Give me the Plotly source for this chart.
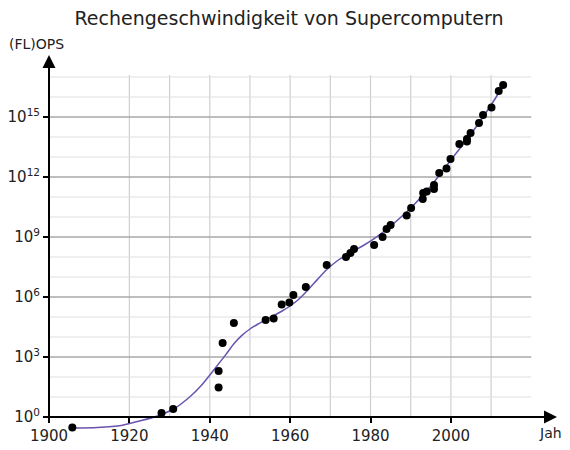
import plotly.graph_objects as go

# --- data ---
point_years = [1905.8, 1928.0, 1930.9, 1942.2, 1942.2, 1943.2, 1946.0, 1953.9, 1955.9,
               1957.9, 1959.8, 1960.8, 1963.9, 1969.1, 1973.9, 1975.0, 1975.9, 1980.9,
               1983.0, 1984.0, 1985.0, 1989.0, 1990.1, 1993.0, 1993.1, 1994.0, 1995.8,
               1995.8, 1997.1, 1998.9, 1999.9, 2002.1, 2004.0, 2004.0, 2004.9, 2007.0,
               2008.0, 2010.1, 2011.9, 2013.0]
point_log_ops = [-0.53, 0.2, 0.4, 1.47, 2.3, 3.7, 4.7, 4.85, 4.93,
                 5.63, 5.73, 6.1, 6.5, 7.6, 8.0, 8.2, 8.4, 8.6,
                 9.0, 9.4, 9.6, 10.07, 10.45, 10.9, 11.2, 11.27, 11.4,
                 11.6, 12.2, 12.43, 12.9, 13.65, 13.77, 13.9, 14.2, 14.7,
                 15.1, 15.47, 16.3, 16.6]

curve_years = [1906, 1912, 1918, 1923, 1927, 1931, 1935, 1938, 1941, 1944, 1946, 1948,
               1950, 1952, 1954, 1956, 1958, 1960, 1962, 1964, 1966, 1969, 1972, 1975,
               1978, 1981, 1985, 1990, 1995, 2000, 2005, 2010, 2013]
curve_log_ops = [-0.55, -0.52, -0.42, -0.18, 0.05, 0.4, 1.0, 1.6, 2.35, 3.12, 3.66, 4.08,
                 4.4, 4.65, 4.87, 5.08, 5.3, 5.55, 5.86, 6.26, 6.7, 7.35, 7.85, 8.22,
                 8.55, 8.93, 9.55, 10.45, 11.55, 12.85, 14.15, 15.6, 16.55]

x_ticks = [1900, 1920, 1940, 1960, 1980, 2000]
y_tick_exps = [0, 3, 6, 9, 12, 15]
y_tick_labels = ["10<sup>%d</sup>" % e for e in y_tick_exps]
v_grid_years = [1920, 1930, 1940, 1950, 1960, 1970, 1980, 1990, 2000, 2010]
h_grid_exps = list(range(1, 18))

title = "Rechengeschwindigkeit von Supercomputern"
y_label = "(FL)OPS"
x_label = "Jahr"

FONT = "DejaVu Sans"
point_ops = [10 ** v for v in point_log_ops]
curve_ops = [10 ** v for v in curve_log_ops]

# page body has an 8px margin: figure is sized/positioned to compensate
W, H = 562, 442
L, R, T, B = 41, 13, 47, 18
PW, PH = W - L - R, H - T - B

fig = go.Figure()
fig.add_trace(go.Scatter(x=curve_years, y=curve_ops, mode="lines",
                         line=dict(color="#6a52b0", width=1.5, shape="spline", smoothing=0.6),
                         hoverinfo="skip", showlegend=False))
fig.add_trace(go.Scatter(x=point_years, y=point_ops, mode="markers",
                         marker=dict(color="black", size=8), showlegend=False,
                         cliponaxis=False))

shapes = []
GX0, GX1 = 1900, 2020
GY0, GY1 = 1, 10 ** 17.1
for yr in v_grid_years:
    shapes.append(dict(type="line", xref="x", yref="y", x0=yr, x1=yr, y0=GY0, y1=GY1,
                       line=dict(color="#cfcfcf", width=1.2), layer="below"))
for e in h_grid_exps:
    major = (e % 3 == 0)
    shapes.append(dict(type="line", xref="x", yref="y", x0=GX0, x1=GX1, y0=10 ** e, y1=10 ** e,
                       line=dict(color="#a8a8a8" if major else "#e0e0e0",
                                 width=1.6 if major else 1.2), layer="below"))
fig.update_layout(shapes=shapes)


def px_to_paper(px, py):
    return (px - L) / PW, (H - py - B) / PH


ylx, yly = px_to_paper(36 - 8, 44 - 8)
xlx, xly = px_to_paper(553 - 8, 433 - 8)
annotations = [
    # x axis arrow
    dict(x=2026.4, y=0, ax=1899.6, ay=0, xref="x", yref="y", axref="x", ayref="y",
         text="", showarrow=True, arrowhead=2, arrowsize=1.3, arrowwidth=2, arrowcolor="black"),
    # y axis arrow
    dict(x=1900, y=18.1, ax=1900, ay=-0.2, xref="x", yref="y", axref="x", ayref="y",
         text="", showarrow=True, arrowhead=2, arrowsize=1.3, arrowwidth=2, arrowcolor="black"),
    dict(x=ylx, y=yly, xref="paper", yref="paper", xanchor="center", yanchor="middle",
         text=y_label, showarrow=False, font=dict(family=FONT, size=14, color="#222")),
    dict(x=xlx, y=xly, xref="paper", yref="paper", xanchor="center", yanchor="middle",
         text=x_label, showarrow=False, font=dict(family=FONT, size=14, color="#222")),
]
fig.update_layout(annotations=annotations)

fig.update_layout(
    width=W, height=H,
    margin=dict(l=L, r=R, t=T, b=B),
    paper_bgcolor="white", plot_bgcolor="white",
    title=dict(text=title, x=0.5, xanchor="center", y=1 - (18 - 8) / H, yanchor="middle",
               font=dict(family=FONT, size=19, color="#222")),
    xaxis=dict(range=[1900, 2026.4], anchor="free", position=15 / PH,
               tickvals=x_ticks, ticks="outside", ticklen=5, tickwidth=1.5, tickcolor="black",
               showgrid=False, zeroline=False, showline=False, automargin=False,
               tickfont=dict(family=FONT, size=15, color="#222")),
    yaxis=dict(type="log", range=[-0.75, 18.1], tickvals=[10 ** e for e in y_tick_exps],
               ticktext=y_tick_labels, ticks="outside", ticklen=5, tickwidth=1.5, tickcolor="black",
               showgrid=False, zeroline=False, showline=False, automargin=False,
               tickfont=dict(family=FONT, size=15, color="#222")),
)

fig.write_html("out.html")
